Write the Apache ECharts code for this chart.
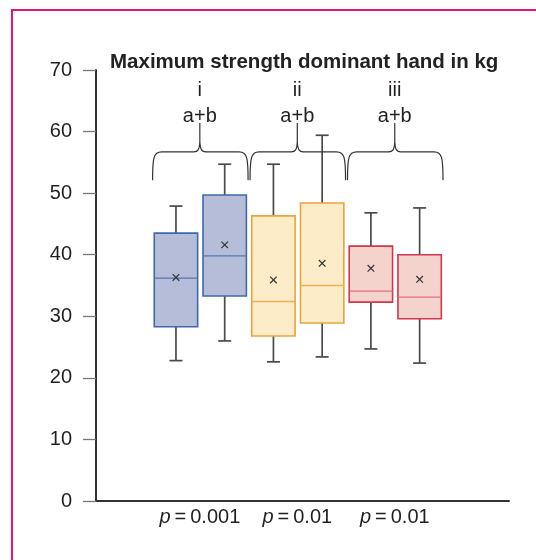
<!DOCTYPE html>
<html>
<head>
<meta charset="utf-8">
<script src="https://cdn.jsdelivr.net/npm/echarts@6/dist/echarts.min.js"></script>
<style>
html, body { margin: 0; padding: 0; background: #fff; }
#chart { width: 536px; height: 560px; }
</style>
</head>
<body>
<div id="chart"></div>
<script>
// six boxes, two per comparison
const groups = ['i-a', 'i-b', 'ii-a', 'ii-b', 'iii-a', 'iii-b'];
const lows    = [22.8, 26.0, 22.6, 23.4, 24.7, 22.4];
const q1s     = [28.3, 33.3, 26.8, 28.9, 32.3, 29.6];
const medians = [36.2, 39.8, 32.4, 35.0, 34.1, 33.1];
const q3s     = [43.5, 49.7, 46.3, 48.4, 41.4, 40.0];
const highs   = [47.9, 54.7, 54.7, 59.4, 46.8, 47.6];
const means   = [36.3, 41.6, 35.9, 38.6, 37.8, 36.0];

const pairNames = ['i', 'ii', 'iii'];
const pairTests = ['a+b', 'a+b', 'a+b'];
const pValues = ['0.001', '0.01', '0.01'];

const fills   = ['#b5bdd9', '#b5bdd9', '#fcedc8', '#fcedc8', '#f5d3cd', '#f5d3cd'];
const borders = ['#3f69ab', '#3f69ab', '#e9a53c', '#e9a53c', '#d5354d', '#d5354d'];
const medCols = ['#5479b3', '#5479b3', '#ebb154', '#ebb154', '#e06f80', '#e06f80'];

const FONT = "'Liberation Sans', Arial, Helvetica, sans-serif";
const INK = '#231f20';

// brace levels in kg
const braceEnd = 52.1, braceBar = 56.7, braceTip = 58.3;

const chart = echarts.init(document.getElementById('chart'));

function renderBox(params, api) {
  const i = api.value(0);
  const x = api.coord([i, 0])[0];
  const band = api.size([1, 0])[0];
  const w = band * 0.89;
  const y = k => api.coord([i, api.value(k)])[1];
  const yLo = y(1), yQ1 = y(2), yMed = y(3), yQ3 = y(4), yHi = y(5), yMean = y(6);
  const whisk = { stroke: '#4a4a4a', lineWidth: 1.7 };
  const m = 3.3;
  return {
    type: 'group',
    children: [
      { type: 'line', shape: { x1: x, y1: yHi, x2: x, y2: yLo }, style: whisk },
      { type: 'line', shape: { x1: x - 6.5, y1: yHi, x2: x + 6.5, y2: yHi }, style: whisk },
      { type: 'line', shape: { x1: x - 6.5, y1: yLo, x2: x + 6.5, y2: yLo }, style: whisk },
      { type: 'rect', shape: { x: x - w / 2, y: yQ3, width: w, height: yQ1 - yQ3 },
        style: { fill: fills[i], stroke: borders[i], lineWidth: 1.6 } },
      { type: 'line', shape: { x1: x - w / 2, y1: yMed, x2: x + w / 2, y2: yMed },
        style: { stroke: medCols[i], lineWidth: 1.3 } },
      { type: 'line', shape: { x1: x - m, y1: yMean - m, x2: x + m, y2: yMean + m },
        style: { stroke: '#333', lineWidth: 1.2 } },
      { type: 'line', shape: { x1: x - m, y1: yMean + m, x2: x + m, y2: yMean - m },
        style: { stroke: '#333', lineWidth: 1.2 } }
    ]
  };
}

function renderPair(params, api) {
  const k = api.value(0);
  const band = api.size([1, 0])[0];
  const xa = api.coord([2 * k, 0])[0];
  const xb = api.coord([2 * k + 1, 0])[0];
  const x0 = xa - band * 0.48, x1 = xb + band * 0.48;
  const xc = (xa + xb) / 2 - 0.5;
  const yE = api.coord([0, braceEnd])[1];
  const yB = api.coord([0, braceBar])[1];
  const yT = api.coord([0, braceTip])[1];
  const y0 = api.coord([0, 0])[1];
  const path =
    `M${x0},${yE} C${x0},${yB + 6} ${x0 + 1},${yB} ${x0 + 9},${yB} ` +
    `L${xc - 6},${yB} C${xc - 2},${yB} ${xc - 0.5},${yB - 2} ${xc},${yT} ` +
    `C${xc + 0.5},${yB - 2} ${xc + 2},${yB} ${xc + 6},${yB} ` +
    `L${x1 - 9},${yB} C${x1 - 1},${yB} ${x1},${yB + 6} ${x1},${yE}`;
  return {
    type: 'group',
    children: [
      { type: 'path', shape: { pathData: path },
        style: { fill: 'none', stroke: '#333', lineWidth: 1.2 } },
      { type: 'line', shape: { x1: xc, y1: yT, x2: xc, y2: yT - 19 },
        style: { stroke: '#333', lineWidth: 1.2 } },
      { type: 'text', x: xc, y: yT - 26,
        style: { text: pairTests[k], font: `20px ${FONT}`, fill: INK,
                 align: 'center', verticalAlign: 'middle' } },
      { type: 'text', x: xc, y: yT - 52,
        style: { text: pairNames[k], font: `20px ${FONT}`, fill: INK,
                 align: 'center', verticalAlign: 'middle' } },
      { type: 'text', x: xc, y: y0 + 16,
        style: { text: `{i|p}\u2009=\u2009${pValues[k]}`, fill: INK, align: 'center',
                 verticalAlign: 'middle', font: `20px ${FONT}`,
                 rich: { i: { fontStyle: 'italic', fontSize: 20, fontFamily: FONT, fill: INK } } } }
    ]
  };
}

chart.setOption({
  animation: false,
  title: {
    text: 'Maximum strength dominant hand in kg',
    left: 105, top: 47,
    textStyle: { fontFamily: FONT, fontWeight: 'bold', fontSize: 20.5, color: '#222' }
  },
  graphic: [{
    type: 'rect', silent: true,
    shape: { x: 12, y: 10, width: 620, height: 620 },
    style: { fill: 'none', stroke: '#e2137b', lineWidth: 2 }
  }],
  grid: [
    { left: 96, right: 27, top: 70, bottom: 59 },
    { left: 151.6, right: 92, top: 70, bottom: 59 }
  ],
  xAxis: [
    { gridIndex: 0, type: 'value', min: 0, max: 1,
      axisLine: { show: true, onZero: false, lineStyle: { color: '#333', width: 2 } },
      axisTick: { show: false }, axisLabel: { show: false }, splitLine: { show: false } },
    { gridIndex: 1, type: 'category', data: groups, show: false }
  ],
  yAxis: [
    { gridIndex: 0, type: 'value', min: 0, max: 70, interval: 10,
      axisLine: { show: true, lineStyle: { color: '#333', width: 2 } },
      axisTick: { show: true, inside: false, length: 13, lineStyle: { color: '#777', width: 1.3 } },
      axisLabel: { margin: 24, fontFamily: FONT, fontSize: 20, color: INK },
      splitLine: { show: false } },
    { gridIndex: 1, type: 'value', min: 0, max: 70, show: false }
  ],
  series: [
    {
      type: 'custom', xAxisIndex: 1, yAxisIndex: 1, clip: false,
      renderItem: renderBox,
      encode: { x: 0, y: [1, 2, 3, 4, 5, 6] },
      data: groups.map((g, i) => [i, lows[i], q1s[i], medians[i], q3s[i], highs[i], means[i]])
    },
    {
      type: 'custom', xAxisIndex: 1, yAxisIndex: 1, clip: false,
      renderItem: renderPair,
      encode: { x: 0 },
      data: pairNames.map((n, k) => [k])
    }
  ]
});
</script>
</body>
</html>
